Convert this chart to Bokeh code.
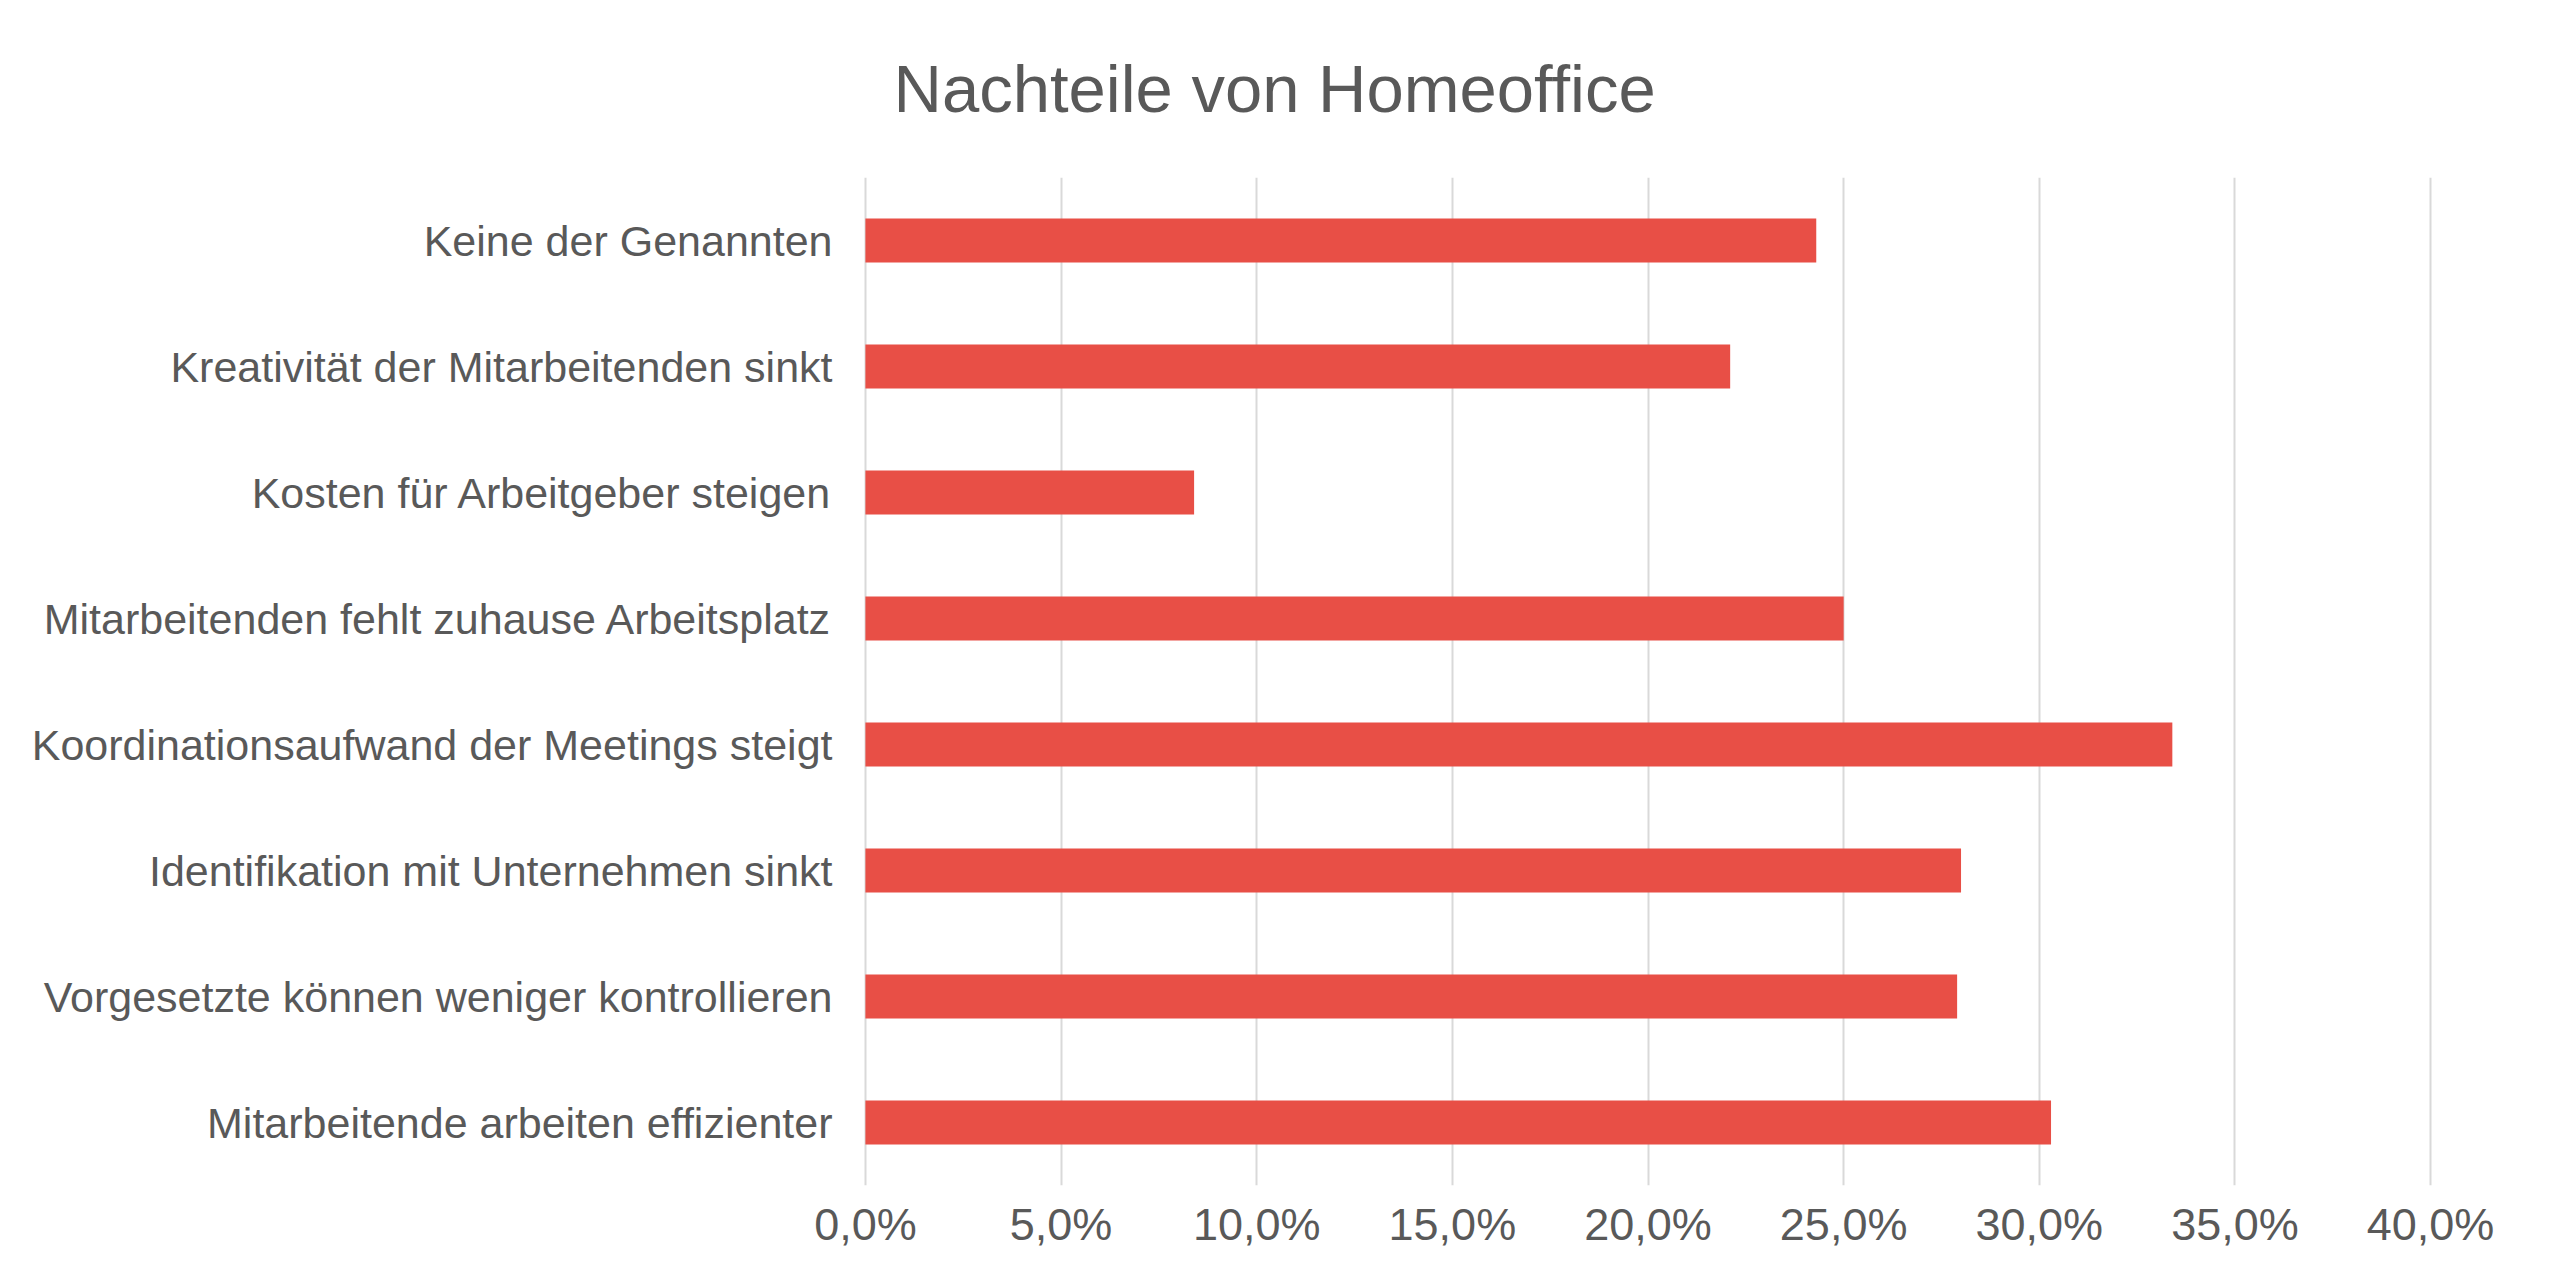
from bokeh.plotting import figure
from bokeh.models import FactorRange, Range1d, FixedTicker
from bokeh.embed import file_html
from bokeh.resources import INLINE

title_text = "Nachteile von Homeoffice"
categories = [
    "Keine der Genannten",
    "Kreativität der Mitarbeitenden sinkt",
    "Kosten für Arbeitgeber steigen",
    "Mitarbeitenden fehlt zuhause Arbeitsplatz",
    "Koordinationsaufwand der Meetings steigt",
    "Identifikation mit Unternehmen sinkt",
    "Vorgesetzte können weniger kontrollieren",
    "Mitarbeitende arbeiten effizienter",
]
values = [24.3, 22.1, 8.4, 25.0, 33.4, 28.0, 27.9, 30.3]
x_ticks = [0, 5, 10, 15, 20, 25, 30, 35, 40]
x_tick_labels = ["0,0%", "5,0%", "10,0%", "15,0%", "20,0%", "25,0%", "30,0%", "35,0%", "40,0%"]

FONT = "Liberation Sans"
GRAY = "#595959"
BAR = "#E84F46"

W, H = 2552, 1283
LEFT, RIGHT, TOP, BOTTOM = 861, 118, 177, 98

p = figure(
    width=W, height=H,
    y_range=FactorRange(factors=list(reversed(categories)), range_padding=0),
    x_range=Range1d(-0.1, 40.1),
    output_backend="svg", toolbar_location=None,
    min_border_left=LEFT, min_border_right=RIGHT,
    min_border_top=TOP, min_border_bottom=BOTTOM,
    title=title_text,
)
p.outline_line_color = None
p.background_fill_color = "white"
p.border_fill_color = "white"

p.title.text_font = FONT
p.title.text_font_size = "67px"
p.title.text_font_style = "normal"
p.title.text_color = GRAY
p.title.align = "left"
p.title.offset = 32
p.title.vertical_align = "top"
p.title.standoff = 100

p.hbar(y=categories, left=0, right=values, height=0.35, fill_color=BAR, line_color=None)

p.ygrid.grid_line_color = None
p.xgrid.grid_line_color = "#d9d9d9"
p.xgrid.grid_line_width = 2
p.xaxis.ticker = FixedTicker(ticks=x_ticks)
p.xaxis.major_label_overrides = {t: l for t, l in zip(x_ticks, x_tick_labels)}

for ax in (p.xaxis[0], p.yaxis[0]):
    ax.axis_line_color = None
    ax.major_tick_line_color = None
    ax.minor_tick_line_color = None
    ax.major_tick_in = 0
    ax.major_tick_out = 0
    ax.major_label_text_color = GRAY
    ax.major_label_text_font = FONT

p.xaxis.major_label_text_font_size = "45px"
p.xaxis.major_label_standoff = 13
p.yaxis.major_label_text_font_size = "43px"
p.yaxis.major_label_standoff = 29

open("out.html", "w").write(file_html(p, INLINE))
